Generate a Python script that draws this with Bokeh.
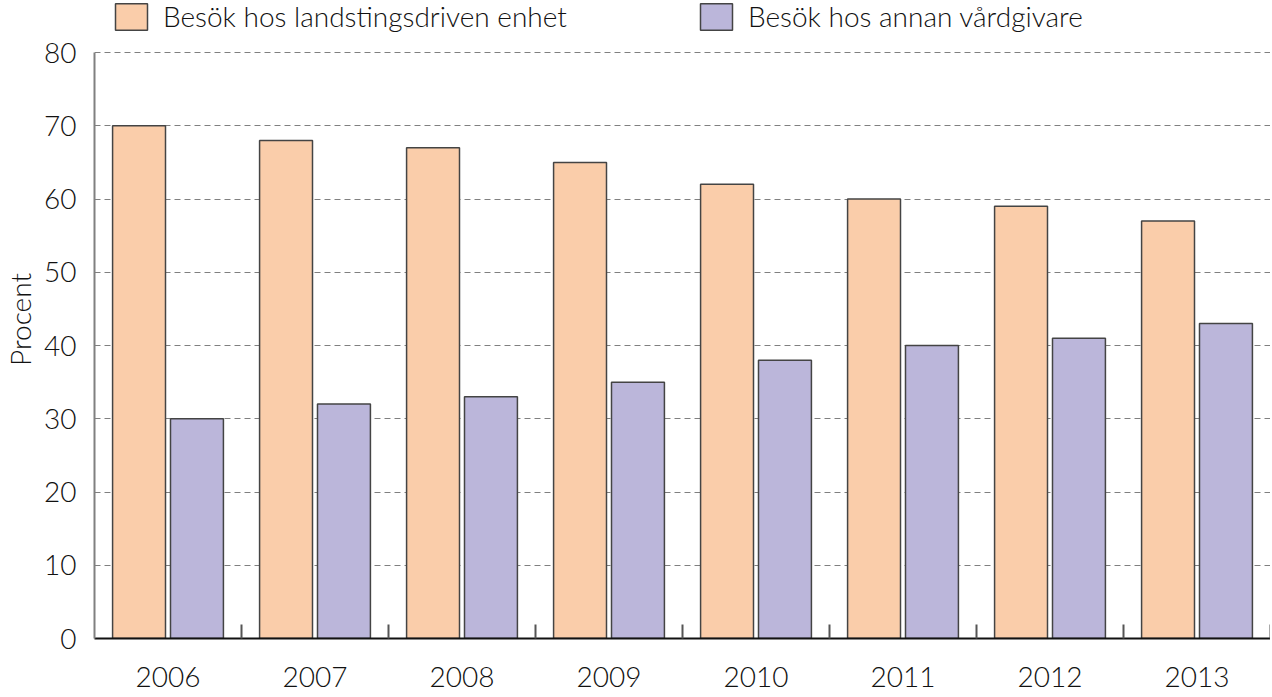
import numpy as np
from bokeh.plotting import figure
from bokeh.models import Range1d, FixedTicker, Legend, LegendItem, ColumnDataSource
from bokeh.embed import file_html
from bokeh.resources import INLINE

years = ["2006", "2007", "2008", "2009", "2010", "2011", "2012", "2013"]
landsting = [70, 68, 67, 65, 62, 60, 59, 57]
annan = [30, 32, 33, 35, 38, 40, 41, 43]
series_names = ["Besök hos landstingsdriven enhet", "Besök hos annan vårdgivare"]
y_ticks = [0, 10, 20, 30, 40, 50, 60, 70, 80]

C_ORANGE = "#FACDAA"
C_PURPLE = "#BBB6DA"
FONT = "'Lato Light', Lato"
FS = "28px"

W, H = 1270, 695
BL, BB = 94, 57
frame_h = H - BB
top80 = 52
y_end = 80 * frame_h / (frame_h - top80)

n = len(years)
centers = np.arange(n) + 0.5
off = 0.197
bw = 0.36

src = ColumnDataSource(dict(
    x1=centers - off, x2=centers + off, a=landsting, b=annan,
))

p = figure(width=W, height=H, output_backend="svg", toolbar_location=None,
           x_range=Range1d(0, n), y_range=Range1d(0, y_end),
           min_border_left=BL, min_border_right=0, min_border_top=0,
           min_border_bottom=BB)
p.outline_line_color = None
p.background_fill_color = "white"
p.border_fill_color = "white"

r1 = p.vbar(x="x1", top="a", width=bw, source=src, fill_color=C_ORANGE,
            line_color="#444444", line_width=1.5)
r2 = p.vbar(x="x2", top="b", width=bw, source=src, fill_color=C_PURPLE,
            line_color="#444444", line_width=1.5)

# x axis
p.xaxis.ticker = FixedTicker(ticks=list(centers), minor_ticks=list(range(1, n + 1)))
p.xaxis.major_label_overrides = {float(c): y for c, y in zip(centers, years)}
p.xaxis.major_tick_line_color = None
p.xaxis.minor_tick_in = 14
p.xaxis.minor_tick_out = 0
p.xaxis.minor_tick_line_color = "#555555"
p.xaxis.minor_tick_line_width = 2
p.xaxis.axis_line_color = "#111111"
p.xaxis.axis_line_width = 2
p.xaxis.major_label_standoff = 22
p.xaxis.major_label_text_font = FONT
p.xaxis.major_label_text_font_size = FS
p.xaxis.major_label_text_color = "#111111"

# y axis
p.yaxis.ticker = FixedTicker(ticks=y_ticks)
p.yaxis.bounds = (0, 80)
p.yaxis.major_tick_line_color = None
p.yaxis.minor_tick_line_color = None
p.yaxis.axis_line_color = "#808080"
p.yaxis.axis_line_width = 2
p.yaxis.major_label_standoff = 12
p.yaxis.major_label_text_font = FONT
p.yaxis.major_label_text_font_size = FS
p.yaxis.major_label_text_color = "#111111"
p.yaxis.axis_label = "Procent"
p.yaxis.axis_label_text_font = FONT
p.yaxis.axis_label_text_font_size = FS
p.yaxis.axis_label_text_font_style = "normal"
p.yaxis.axis_label_text_color = "#111111"
p.yaxis.axis_label_standoff = 4

p.xgrid.grid_line_color = None
p.ygrid.grid_line_color = "#808080"
p.ygrid.grid_line_dash = "6 4"
p.ygrid.grid_line_width = 1

for r, name, xloc in [(r1, series_names[0], 17), (r2, series_names[1], 602)]:
    lg = Legend(items=[LegendItem(label=name, renderers=[r])],
                location=(xloc, frame_h - 33), orientation="horizontal",
                glyph_width=40, glyph_height=33, label_height=28,
                label_standoff=12, padding=0, margin=0, spacing=0,
                border_line_color=None, background_fill_alpha=0,
                label_text_font=FONT, label_text_font_size=FS,
                label_text_color="#111111")
    p.add_layout(lg, "center")

open("out.html", "w").write(file_html(p, INLINE))
